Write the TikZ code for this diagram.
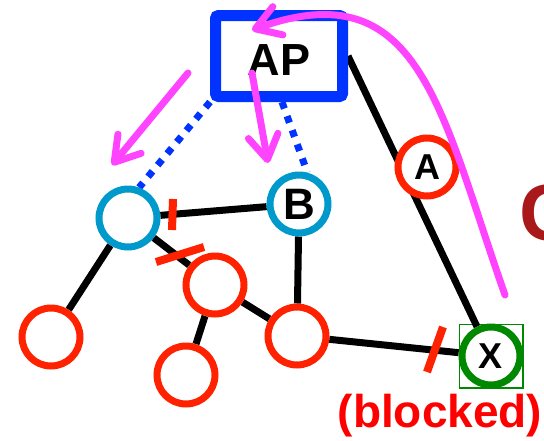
\documentclass[tikz,border=0pt]{standalone}
\usepackage{fontspec}
\setmainfont{Liberation Sans}
\usetikzlibrary{arrows.meta,backgrounds}
\definecolor{apblue}{RGB}{0,51,255}
\definecolor{stateal}{RGB}{0,153,204}
\definecolor{nred}{RGB}{255,34,0}
\definecolor{mag}{RGB}{255,68,255}
\definecolor{ggreen}{RGB}{0,136,0}
\definecolor{dred}{RGB}{170,25,25}
\begin{document}
\begin{tikzpicture}[x=1pt,y=-1pt,
  stanode/.style={circle,draw=stateal,fill=white,line width=7pt,minimum size=58pt,inner sep=0pt,font=\bfseries\fontsize{44}{44}\selectfont},
  rednode/.style={circle,draw=nred,fill=white,line width=7pt,minimum size=58pt,inner sep=0pt,font=\bfseries\fontsize{36}{36}\selectfont},
  greennode/.style={circle,draw=ggreen,fill=white,line width=7pt,minimum size=58pt,inner sep=0pt,font=\bfseries\fontsize{36}{36}\selectfont},
  link/.style={line width=7pt,black},
  blockbar/.style={line width=8pt,nred},
  assoc/.style={apblue,line width=7pt,dash pattern=on 7pt off 8pt},
  flow/.style={mag,line width=7pt,line cap=round,-{Straight Barb[length=24pt,width=30pt,round]}},
]
\useasboundingbox (0,0) rectangle (544,440);
\clip (0,0) rectangle (544,440);
% AP box
\node[draw=apblue,fill=white,line width=11pt,rounded corners=3pt,minimum width=127pt,minimum height=81pt,inner sep=0pt,text height=38pt,font=\bfseries\fontsize{45}{45}\selectfont] (AP) at (279,56) {AP};
% stations
\node[stanode] (L) at (128,218) {};
\node[stanode] (B) at (299,204) {B};
\node[rednode] (A) at (427,167) {A};
\node[greennode] (X) at (491,356) {X};
\node[rednode] (M) at (215,285) {};
\node[rednode] (BL) at (51,337) {};
\node[rednode] (BM) at (186,375) {};
\node[rednode] (R) at (297,336) {};
% labels
\node[text=red,inner sep=0pt,anchor=base,font=\bfseries\fontsize{46}{46}\selectfont] (blk) at (440,427) {(blocked)};
\node[text=dred,inner sep=0pt,anchor=base west,font=\bfseries\fontsize{80}{80}\selectfont] (cc) at (519,240) {C};
\begin{pgfonlayer}{background}
  \node[draw=ggreen,line width=1.5pt,minimum size=63.5pt,inner sep=0pt] (Xbox) at (X) {};
  \draw[link] (AP.east) -- (X);
  \draw[link] (L) -- (B);
  \draw[link] (L) -- (M);
  \draw[link] (L) -- (BL);
  \draw[link] (M) -- (BM);
  \draw[link] (M) -- (R);
  \draw[link] (B) -- (R);
  \draw[link] (R) -- (X);
  \draw[assoc] (AP.south west) -- (L.70);
  \draw[assoc] ([xshift=3pt]AP.south) -- (B.75);
\end{pgfonlayer}
% blocking bars
\coordinate (b1a) at (173,199); \coordinate (b1b) at (172,230);
\coordinate (b2a) at (156,262); \coordinate (b2b) at (204,247);
\coordinate (b3a) at (443,327); \coordinate (b3b) at (427,372);
\draw[blockbar] (b1a) -- (b1b);
\draw[blockbar] (b2a) -- (b2b);
\draw[blockbar] (b3a) -- (b3b);
% magenta arrows
\coordinate (f1s) at (188,73); \coordinate (f1e) at (112,165);
\coordinate (f2s) at (252,73); \coordinate (f2e) at (268,163);
\coordinate (f3s) at (505,295); \coordinate (f3e) at (252,30);
\draw[flow] (f1s) -- (f1e);
\draw[flow] (f2s) -- (f2e);
\draw[flow] (f3s) .. controls (440,110) and (420,-30) .. (f3e);
\end{tikzpicture}
\end{document}
